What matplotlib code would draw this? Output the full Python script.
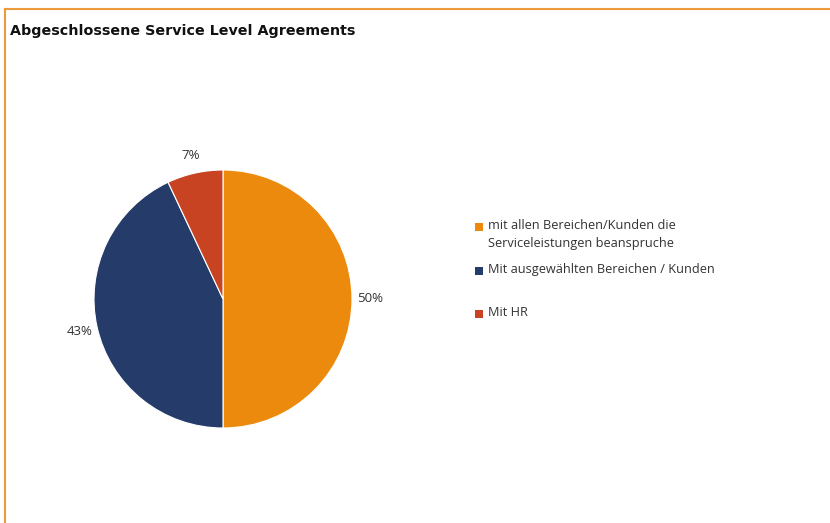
import matplotlib
matplotlib.use("Agg")
import matplotlib.pyplot as plt
from matplotlib.lines import Line2D
from matplotlib.patches import Rectangle

# Anteile der abgeschlossenen SLAs
categories = [
    "mit allen Bereichen/Kunden die\nServiceleistungen beanspruche",
    "Mit ausgewählten Bereichen / Kunden",
    "Mit HR",
]
shares = [50, 43, 7]
colors = ["#EB8A0C", "#253C6A", "#C84322"]

W, H = 830, 523
plt.rcParams["font.family"] = ["Open Sans", "DejaVu Sans"]

fig = plt.figure(figsize=(W / 100, H / 100), dpi=100)

# Pie centred at (223, 299) px with radius 129 px
cx, cy, r = 223, 299, 129
ax = fig.add_axes([(cx - r) / W, (H - cy - r) / H, 2 * r / W, 2 * r / H])
wedges, _, pcts = ax.pie(
    shares, colors=colors, startangle=90, counterclock=False,
    autopct="%d%%", pctdistance=1.14, labels=None,
    wedgeprops=dict(edgecolor="white", linewidth=0.8),
    textprops=dict(fontsize=9.5, color="#333333"),
)
ax.set_xlim(-1, 1)
ax.set_ylim(-1, 1)
ax.set_aspect("auto")
for t in pcts:
    t.set_clip_on(False)

fig.text(10 / W, 1 - 31 / H, "Abgeschlossene Service Level Agreements",
         fontsize=10.3, fontweight="bold", color="#111111", va="center",
         family=["DejaVu Sans"])

# Legend laid out by hand, entries every 44 px
leg_y = [227, 271, 314]
for lbl, col, y in zip(categories, colors, leg_y):
    fig.patches.append(Rectangle((475 / W, 1 - (y + 4) / H), 8 / W, 8 / H,
                                 transform=fig.transFigure, facecolor=col,
                                 edgecolor="none"))
    fig.text(488 / W, 1 - (y - 8) / H, lbl, fontsize=9.2, color="#333333",
             va="top", linespacing=1.5)

# Orange frame (top and left edges)
border = "#EC9A3A"
fig.add_artist(Line2D([5 / W, 1], [1 - 9 / H, 1 - 9 / H], color=border,
                      lw=1.5, transform=fig.transFigure))
fig.add_artist(Line2D([5 / W, 5 / W], [0, 1 - 9 / H], color=border,
                      lw=1.5, transform=fig.transFigure))

fig.savefig("out.png", dpi=100)
